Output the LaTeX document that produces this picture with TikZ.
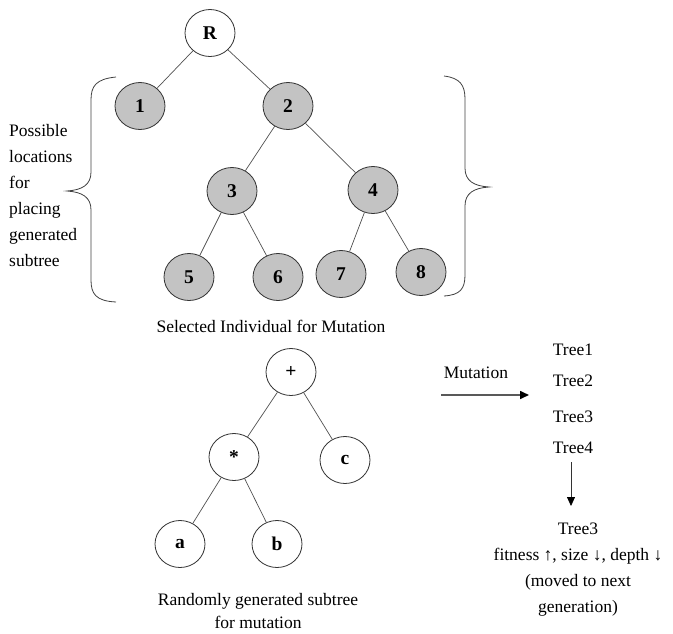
\documentclass[tikz,border=0pt]{standalone}
\usepackage{fontspec}
\setmainfont{Liberation Serif}
\usetikzlibrary{arrows.meta,shapes.geometric}
\definecolor{nodegray}{HTML}{C3C3C3}
\definecolor{edgegray}{HTML}{505050}
\tikzset{
  tnode/.style={ellipse,draw=black!80,line width=0.8pt,minimum width=50pt,minimum height=47pt,inner sep=0pt,font=\fontsize{19.5}{19.5}\selectfont\bfseries},
  gnode/.style={tnode,fill=nodegray},
  wnode/.style={tnode,fill=white},
  edge/.style={draw=edgegray,line width=0.7pt},
  txt/.style={font=\fontsize{17.5}{26}\selectfont,inner sep=0pt},
  bracestyle/.style={draw=black!75,line width=0.8pt},
  arr/.style={draw=black!65,line width=1.6pt,-{Triangle[length=9pt,width=8pt,color=black]}}
}
\begin{document}
\begin{tikzpicture}[x=1pt,y=-1pt]
\useasboundingbox (0,0) rectangle (673,633);
% top tree
\node[wnode] (R) at (210,33) {R};
\node[gnode] (n1) at (140,106) {1};
\node[gnode] (n2) at (288,106) {2};
\node[gnode] (n3) at (232,191) {3};
\node[gnode] (n4) at (373,190) {4};
\node[gnode] (n5) at (189,277) {5};
\node[gnode] (n6) at (278,277) {6};
\node[gnode] (n7) at (341,274) {7};
\node[gnode] (n8) at (421,272) {8};
\draw[edge] (R) -- (n1);
\draw[edge] (R) -- (n2);
\draw[edge] (n2) -- (n3);
\draw[edge] (n2) -- (n4);
\draw[edge] (n3) -- (n5);
\draw[edge] (n3) -- (n6);
\draw[edge] (n4) -- (n7);
\draw[edge] (n4) -- (n8);
% braces
\draw[bracestyle] (116,77) .. controls (96,79) and (91,86) .. (91,100)
  -- (91,172) .. controls (91,185) and (82,190) .. (67,191)
  .. controls (82,192) and (91,197) .. (91,210)
  -- (91,280) .. controls (91,294) and (96,301) .. (116,302);
\draw[bracestyle] (444,76) .. controls (460,78) and (465,85) .. (465,99)
  -- (465,168) .. controls (465,181) and (474,186) .. (489,187)
  .. controls (474,188) and (465,193) .. (465,206)
  -- (465,275) .. controls (465,289) and (460,295) .. (444,296);
\node[txt,anchor=north west,align=left] (possible) at (9,124) {Possible\\locations\\for\\placing\\generated\\subtree};
\node[txt] (sel) at (271,326) {Selected Individual for Mutation};
% bottom tree
\node[wnode] (plus) at (291,372) {+};
\node[wnode] (star) at (234,457) {*};
\node[wnode] (c) at (345,460) {c};
\node[wnode] (a) at (180,544) {a};
\node[wnode] (b) at (277,544) {b};
\draw[edge] (plus) -- (star);
\draw[edge] (plus) -- (c);
\draw[edge] (star) -- (a);
\draw[edge] (star) -- (b);
\node[txt,align=center,anchor=north,font=\fontsize{17.5}{23.5}\selectfont] (rand) at (258,593) {Randomly generated subtree\\for mutation};
% right part
\node[txt] (mut) at (476,373) {Mutation};
\coordinate (ms) at (441,395);
\coordinate (me) at (529,395);
\draw[arr] (ms) -- (me);
\node[txt] (t1) at (573,350) {Tree1};
\node[txt] (t2) at (573,381) {Tree2};
\node[txt] (t3) at (573,417) {Tree3};
\node[txt] (t4) at (573,448) {Tree4};
\node[txt,align=center,anchor=north] (res) at (578,523) {Tree3\\fitness ↑, size ↓, depth ↓\\(moved to next\\generation)};
\coordinate (ds) at (571,462);
\coordinate (de) at (571,506);
\draw[arr,line width=0.8pt,draw=black!80] (ds) -- (de);
\end{tikzpicture}
\end{document}
